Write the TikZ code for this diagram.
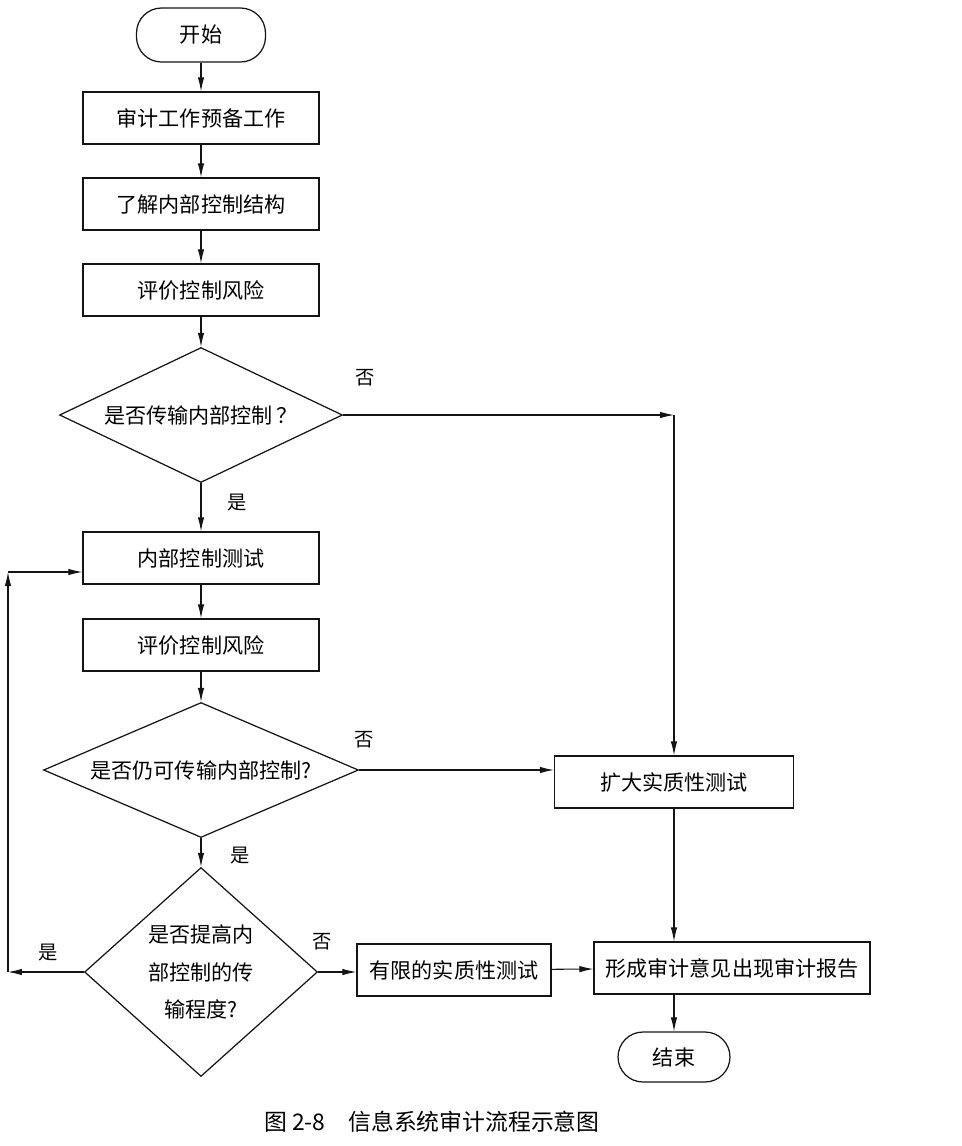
\documentclass[tikz,border=0pt]{standalone}
\usepackage{fontspec}
\newfontfamily\cjk{Noto Sans CJK SC}
\usepackage{tikz}
\usetikzlibrary{calc,arrows.meta,shapes.geometric}
\definecolor{flowInk}{RGB}{20,20,20}

\begin{document}
\begin{tikzpicture}[x=0.02cm,y=-0.02cm,
  line width=0.6pt, draw=flowInk,
  arr/.style={-{Latex[length=2.8mm,width=1.3mm]}},
  box/.style={draw, line width=0.7pt, minimum width=4.72cm, minimum height=1.04cm, inner sep=0pt, font=\cjk\fontsize{12}{14}\selectfont},
  term/.style={draw, line width=0.7pt, rounded corners=0.5cm, inner sep=0pt, font=\cjk\fontsize{12}{14}\selectfont},
  dec/.style={draw, diamond, line width=0.7pt, inner sep=0pt, align=center, font=\cjk\fontsize{12}{21.5}\selectfont},
  lbl/.style={font=\cjk\fontsize{11}{13}\selectfont}]
\useasboundingbox (0,0) rectangle (962,1146);

\node[term, minimum width=2.58cm, minimum height=1.08cm] (start) at (201,35) {开始};
\node[box] (prep) at (201,118) {审计工作预备工作};
\node[box] (know) at (201,204) {了解内部控制结构};
\node[box] (risk1) at (201,290) {评价控制风险};
\node[dec, minimum width=5.66cm, minimum height=2.7cm, aspect=2.1] (q1) at (201,415) {是否传输内部控制\,？};
\node[box] (test) at (201,558) {内部控制测试};
\node[box] (risk2) at (201,645) {评价控制风险};
\node[dec, minimum width=6.3cm, minimum height=2.7cm, aspect=2.33] (q2) at (201,770) {是否仍可传输内部控制?};
\node[dec, minimum width=4.66cm, minimum height=4.18cm, aspect=1.12] (q3) at (201,972) {是否提高内\\部控制的传\\输程度?};
\node[box, minimum width=4.78cm] (ext) at (674,782) {扩大实质性测试};
\node[box, minimum width=3.88cm] (lim) at (454,970) {有限的实质性测试};
\node[box, minimum width=5.52cm] (rep) at (732,968) {形成审计意见出现审计报告};
\node[term, minimum width=2.24cm, minimum height=1.0cm] (stop) at (674,1057) {结束};

\node[lbl] (no1) at (365,378) {否};
\node[lbl] (yes1) at (237,503) {是};
\node[lbl] (no2) at (364,740) {否};
\node[lbl] (yes2) at (240,856) {是};
\node[lbl] (yes3) at (48,953) {是};
\node[lbl] (no3) at (322,942) {否};
\node[font=\cjk\fontsize{13}{15}\selectfont] (title) at (432,1122) {图 2-8\quad 信息系统审计流程示意图};

\coordinate (c1) at (ext.north |- q1.east);
\coordinate (c2) at (8,972);
\coordinate (c3) at (8,572);

\draw[arr] (start) -- (prep);
\draw[arr] (prep) -- (know);
\draw[arr] (know) -- (risk1);
\draw[arr] (risk1) -- (q1);
\draw[arr] (q1) -- (test);
\draw[arr] (test) -- (risk2);
\draw[arr] (risk2) -- (q2);
\draw[arr] (q2) -- (q3);
\draw[arr] (q1.east) -- (c1);
\draw[arr] (c1) -- (ext.north);
\draw[arr] (q2.east) -- (q2.east -| ext.west);
\draw[arr] (q3.west) -- (c2);
\draw[arr] (c2) -- (c3);
\draw[arr] (c3) -- (c3 -| test.west);
\draw[arr] (q3.east) -- (q3.east -| lim.west);
\draw[arr] (lim) -- (rep);
\draw[arr] (ext) -- (ext |- rep.north);
\draw[arr] (stop |- rep.south) -- (stop);
\end{tikzpicture}
\end{document}
